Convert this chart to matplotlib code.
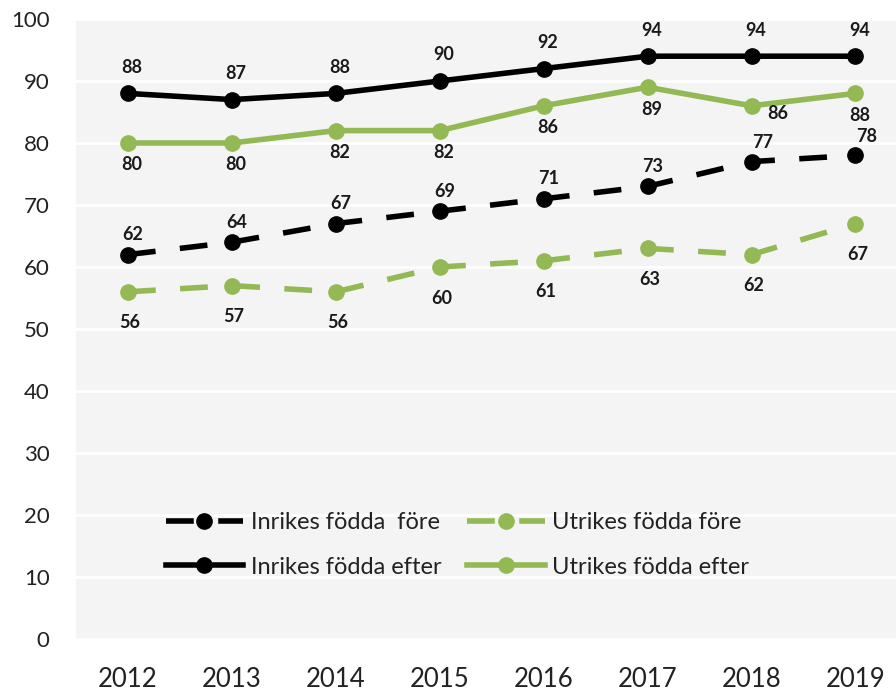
import matplotlib
matplotlib.use("Agg")
import matplotlib.pyplot as plt

years = ["2012", "2013", "2014", "2015", "2016", "2017", "2018", "2019"]
inrikes_fore = [62, 64, 67, 69, 71, 73, 77, 78]
utrikes_fore = [56, 57, 56, 60, 61, 63, 62, 67]
inrikes_efter = [88, 87, 88, 90, 92, 94, 94, 94]
utrikes_efter = [80, 80, 82, 82, 86, 89, 86, 88]

black = "#000000"
green = "#93b955"
bg = "#f4f4f4"

plt.rcParams["font.family"] = ["Lato", "DejaVu Sans"]

fig = plt.figure(figsize=(8.96, 6.97), dpi=100)
ax = fig.add_axes([76 / 896, 58 / 697, 820 / 896, 620 / 697])
ax.set_facecolor(bg)
x = list(range(len(years)))

dash = (0, (5.0, 4.4))
lw = 4.0
ms = 11
ax.plot(x, inrikes_fore, color=black, lw=lw, ls=dash, marker="o", ms=ms,
        label="Inrikes födda  före", zorder=3)
ax.plot(x, inrikes_efter, color=black, lw=lw, marker="o", ms=ms,
        label="Inrikes födda efter", zorder=3)
ax.plot(x, utrikes_fore, color=green, lw=lw, ls=dash, marker="o", ms=ms,
        label="Utrikes födda före", zorder=3)
ax.plot(x, utrikes_efter, color=green, lw=lw, marker="o", ms=ms,
        label="Utrikes födda efter", zorder=3)

# data labels
lab_kw = dict(textcoords="offset pixels", ha="center", va="center",
              fontsize=13, color="#1a1a1a", fontweight="bold")
for i, v in enumerate(inrikes_efter):
    ax.annotate(str(v), (i, v), xytext=(4, 26), **lab_kw)
for i, v in enumerate(utrikes_efter):
    off = (4, -22)
    if i == 6:
        off = (26, -8)
    ax.annotate(str(v), (i, v), xytext=off, **lab_kw)
for i, v in enumerate(inrikes_fore):
    off = (5, 20)
    if i >= 6:
        off = (11, 19)
    ax.annotate(str(v), (i, v), xytext=off, **lab_kw)
for i, v in enumerate(utrikes_fore):
    ax.annotate(str(v), (i, v), xytext=(2, -31), **lab_kw)

ax.set_xlim(-0.5, 7.39)
ax.set_ylim(0, 100)
ax.set_yticks(range(0, 101, 10))
ax.set_xticks(x)
ax.set_xticklabels(years)
ax.grid(axis="y", color="white", lw=2)
ax.set_axisbelow(True)
for s in ax.spines.values():
    s.set_visible(False)
ax.tick_params(length=0, colors="#222222")
ax.tick_params(axis="y", pad=19, labelsize=16)
ax.tick_params(axis="x", pad=20, labelsize=18.5)

leg = ax.legend(loc="center", bbox_to_anchor=(0.465, 0.152), ncol=2,
                frameon=False, fontsize=17, handlelength=3.3,
                columnspacing=1.1, labelspacing=1.0, handletextpad=0.3)
for t in leg.get_texts():
    t.set_color("#222222")

fig.savefig("out.png", dpi=100)
